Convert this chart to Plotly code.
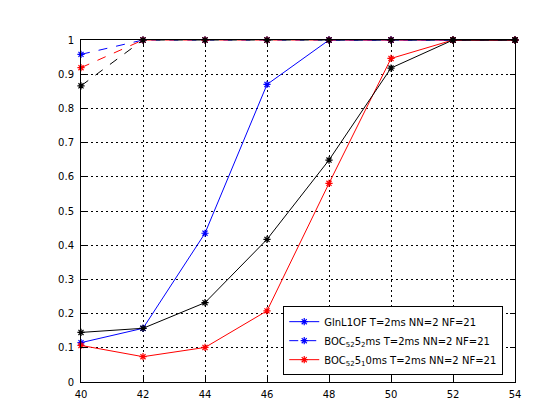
import plotly.graph_objects as go

x = [40, 42, 44, 46, 48, 50, 52, 54]

# solid curves
black_y = [0.145, 0.157, 0.232, 0.417, 0.649, 0.918, 1.0, 1.0]
blue_y = [0.115, 0.157, 0.435, 0.870, 1.0, 1.0, 1.0, 1.0]
red_y = [0.107, 0.074, 0.101, 0.208, 0.581, 0.946, 1.0, 1.0]

# dashed curves
blue_dash_y = [0.958, 1.0, 1.0, 1.0, 1.0, 1.0, 1.0, 1.0]
red_dash_y = [0.919, 1.0, 1.0, 1.0, 1.0, 1.0, 1.0, 1.0]
black_dash_y = [0.866, 1.0, 1.0, 1.0, 1.0, 1.0, 1.0, 1.0]

names = ["GlnL1OF T=2ms NN=2 NF=21",
         "BOC<sub>52</sub>5<sub>2</sub>ms T=2ms NN=2 NF=21",
         "BOC<sub>52</sub>5<sub>1</sub>0ms T=2ms NN=2 NF=21"]

xticks = [40, 42, 44, 46, 48, 50, 52, 54]
yticks = [0, 0.1, 0.2, 0.3, 0.4, 0.5, 0.6, 0.7, 0.8, 0.9, 1]
ytext = ["0", "0.1", "0.2", "0.3", "0.4", "0.5", "0.6", "0.7", "0.8", "0.9", "1"]


def line(y, color, dash, name=None, legend=False):
    return go.Scatter(
        x=x, y=y, mode="lines+markers", name=name, showlegend=legend,
        line=dict(color=color, width=1, dash=dash),
        marker=dict(symbol="asterisk-open", size=6,
                    line=dict(color=color, width=1.2)),
        cliponaxis=False)


fig = go.Figure()
fig.add_trace(line(blue_y, "blue", "solid", names[0], True))
fig.add_trace(line(blue_dash_y, "blue", "dash", names[1], True))
fig.add_trace(line(red_dash_y, "red", "dash"))
fig.add_trace(line(red_y, "red", "solid", names[2], True))
fig.add_trace(line(black_y, "black", "solid"))
fig.add_trace(line(black_dash_y, "black", "dash"))

axis = dict(showline=True, linecolor="black", linewidth=1, mirror="ticks",
            ticks="inside", ticklen=5, tickcolor="black",
            showgrid=True, gridcolor="black", griddash="1.5px,3.5px", gridwidth=1,
            zeroline=False, tickfont=dict(size=10, color="black"))

fig.update_xaxes(range=[40, 54], tickvals=xticks, ticklabelstandoff=3, **axis)
fig.update_yaxes(range=[0, 1], tickvals=yticks, ticktext=ytext,
                 ticklabelstandoff=4, **axis)

fig.update_layout(
    width=560, height=420,
    margin=dict(l=73, r=53, t=32, b=46),
    paper_bgcolor="white", plot_bgcolor="white",
    font=dict(family="DejaVu Sans", size=10, color="black"),
    legend=dict(x=0.466, y=0.02, xanchor="left", yanchor="bottom",
                bgcolor="white", bordercolor="black", borderwidth=1,
                font=dict(size=10), tracegroupgap=0),
)

fig.write_html("out.html")
